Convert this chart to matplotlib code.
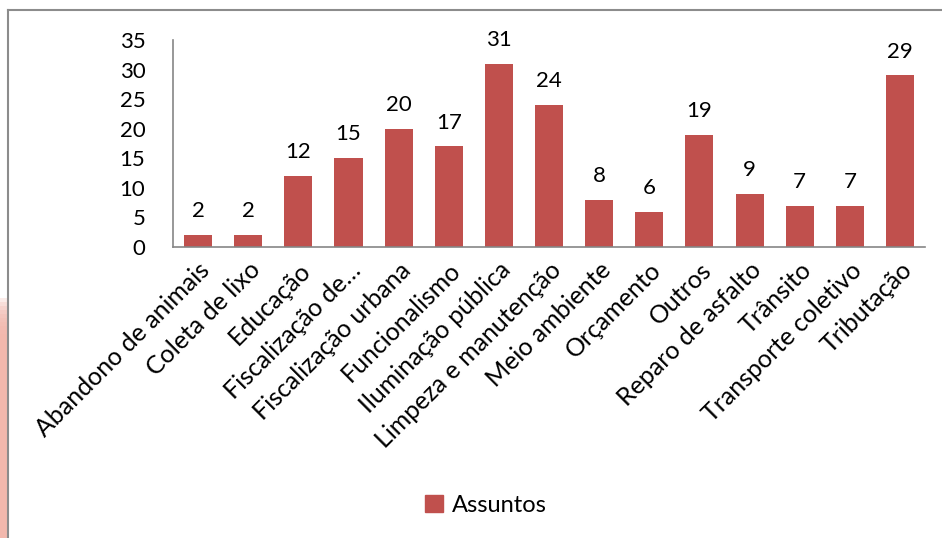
import matplotlib.pyplot as plt
from matplotlib.patches import Rectangle
from matplotlib.lines import Line2D

# Data
categories = ['Abandono de animais', 'Coleta de lixo', 'Educação', 'Fiscalização de…',
              'Fiscalização urbana', 'Funcionalismo', 'Iluminação pública',
              'Limpeza e manutenção', 'Meio ambiente', 'Orçamento', 'Outros',
              'Reparo de asfalto', 'Trânsito', 'Transporte coletivo', 'Tributação']
values = [2, 2, 12, 15, 20, 17, 31, 24, 8, 6, 19, 9, 7, 7, 29]
series_name = 'Assuntos'
y_ticks = [0, 5, 10, 15, 20, 25, 30, 35]

BAR_COLOR = '#C0504D'
AXIS_COLOR = '#868686'

plt.rcParams['font.family'] = ['Lato', 'DejaVu Sans']

fig = plt.figure(figsize=(9.42, 5.38), dpi=100)
ax = fig.add_axes([0.1837, 0.5409, 0.7983, 0.3848])

x = range(len(categories))
bars = ax.bar(x, values, width=0.56, color=BAR_COLOR, label=series_name)

for xi, v in zip(x, values):
    ax.annotate(str(v), (xi, v), xytext=(0, 10), textcoords='offset points',
                ha='center', va='bottom', fontsize=16, color='black')

ax.set_xlim(-0.5, len(categories) - 0.5)
ax.set_ylim(0, 35)
ax.set_yticks(y_ticks)
ax.set_xticks(list(x))
ax.set_xticklabels(categories, rotation=45, ha='right', rotation_mode='anchor',
                   fontsize=18)
ax.tick_params(axis='both', length=0)
ax.tick_params(axis='y', pad=20, labelsize=16)
ax.tick_params(axis='x', pad=8)
for lbl in ax.get_xticklabels():
    lbl.set_x(lbl.get_position()[0])

for side in ['top', 'right']:
    ax.spines[side].set_visible(False)
for side in ['left', 'bottom']:
    ax.spines[side].set_color(AXIS_COLOR)
    ax.spines[side].set_linewidth(1.2)

fig.legend(handles=[Rectangle((0, 0), 1, 1, color=BAR_COLOR)], labels=[series_name],
           loc='center', bbox_to_anchor=(0.516, 0.0613), frameon=False,
           fontsize=17, handlelength=0.75, handleheight=0.75, handletextpad=0.4)

# chart border and pink edge
fig.add_artist(Line2D([8 / 942, 8 / 942], [0, 1 - 10 / 538], color='#8C8C8C', lw=1.5))
fig.add_artist(Line2D([8 / 942, 1], [1 - 10 / 538, 1 - 10 / 538], color='#8C8C8C', lw=1.5))
for i in range(10):
    top = 1 - (298 + i * 4) / 538
    fig.add_artist(Rectangle((0, 0), 7 / 942, top, transform=fig.transFigure,
                             color='#F2B6AA', alpha=0.25, lw=0))

fig.savefig('out.png', dpi=100)
